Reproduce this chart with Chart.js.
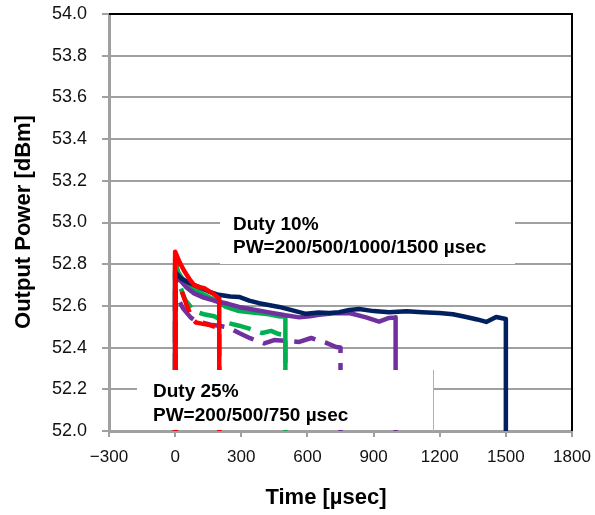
<!DOCTYPE html>
<html>
<head>
<meta charset="utf-8">
<script src="https://cdn.jsdelivr.net/npm/chart.js@4/dist/chart.umd.min.js"></script>
<style>
html,body{margin:0;padding:0;background:#fff;}
#wrap{width:595px;height:515px;}
</style>
</head>
<body>
<div id="wrap"><canvas id="c" width="595" height="515"></canvas></div>
<script>
// ---- data (time in µs, output power in dBm) ----
const xTickValues = [-300, 0, 300, 600, 900, 1200, 1500, 1800];
const yTickValues = [52.0, 52.2, 52.4, 52.6, 52.8, 53.0, 53.2, 53.4, 53.6, 53.8, 54.0];

const red10T = [0, 0, 20, 40, 64, 86, 110, 132, 155, 177, 200, 200];
const red10V = [51.5, 52.86, 52.81, 52.77, 52.73, 52.70, 52.69, 52.685, 52.67, 52.655, 52.635, 51.5];

const green10T = [0, 0, 15, 40, 86, 130, 177, 230, 290, 340, 426, 470, 500, 500];
const green10V = [51.5, 52.80, 52.76, 52.72, 52.68, 52.655, 52.63, 52.595, 52.575, 52.57, 52.56, 52.55, 52.548, 51.5];

const purple10T = [0, 0, 10, 25, 50, 86, 130, 177, 240, 290, 340, 420, 500, 563, 610, 653, 720, 790, 866, 925, 970, 1000, 1000];
const purple10V = [51.5, 52.77, 52.75, 52.72, 52.69, 52.66, 52.64, 52.625, 52.61, 52.595, 52.585, 52.57, 52.555, 52.545, 52.55, 52.557, 52.565, 52.566, 52.545, 52.525, 52.542, 52.545, 51.5];

const navy10T = [0, 0, 10, 30, 64, 109, 150, 190, 250, 290, 336, 381, 472, 563, 594, 650, 700, 744, 790, 835, 900, 971, 1050, 1121, 1198, 1260, 1320, 1370, 1411, 1456, 1500, 1500];
const navy10V = [51.5, 52.76, 52.75, 52.73, 52.71, 52.69, 52.67, 52.655, 52.645, 52.643, 52.625, 52.613, 52.595, 52.57, 52.562, 52.568, 52.566, 52.57, 52.58, 52.585, 52.575, 52.57, 52.574, 52.57, 52.566, 52.56, 52.547, 52.535, 52.523, 52.547, 52.537, 51.5];

const red25T = [0, 0, 10, 18, 30, 50, 77, 95, 120, 150, 180, 200, 200];
const red25V = [51.5, 52.85, 52.77, 52.72, 52.67, 52.61, 52.54, 52.52, 52.515, 52.51, 52.50, 52.49, 51.5];

const green25T = [0, 0, 20, 45, 86, 130, 177, 230, 290, 340, 395, 435, 470, 500, 500];
const green25V = [51.5, 52.78, 52.70, 52.63, 52.575, 52.56, 52.55, 52.52, 52.505, 52.49, 52.47, 52.48, 52.465, 52.46, 51.5];

const purple25T = [0, 0, 10, 20, 35, 50, 70, 90, 122, 160, 200, 245, 290, 340, 404, 449, 500, 563, 617, 680, 730, 750, 750];
const purple25V = [51.5, 52.67, 52.64, 52.62, 52.59, 52.57, 52.545, 52.53, 52.52, 52.51, 52.505, 52.495, 52.47, 52.445, 52.42, 52.436, 52.432, 52.427, 52.446, 52.425, 52.403, 52.40, 51.5];

const box1Lines = ["Duty 10%", "PW=200/500/1000/1500 \u00b5sec"];
const box2Lines = ["Duty 25%", "PW=200/500/750 \u00b5sec"];
const xTitle = "Time [\u00b5sec]";
const yTitle = "Output Power [dBm]";

function pts(T, V) { return T.map((t, i) => ({x: t, y: V[i]})); }

const RED = '#ff0000', GREEN = '#00b050', PURPLE = '#7030a0', NAVY = '#002060';
const FONT = "'Liberation Sans', Arial, sans-serif";
const GRID = '#a0a0a0';

function ds(label, T, V, color, dashed) {
  return {
    label, data: pts(T, V), borderColor: color, backgroundColor: color,
    borderWidth: 4.5, pointRadius: 0, tension: 0, fill: false,
    borderDash: dashed ? [22, 10] : [],
    borderJoinStyle: 'round', borderCapStyle: dashed ? 'butt' : 'round'
  };
}

const overlay = {
  id: 'overlay',
  afterDatasetsDraw(chart) {
    const ctx = chart.ctx;
    const a = chart.chartArea;
    ctx.save();
    // text boxes
    ctx.fillStyle = '#fff';
    ctx.fillRect(220, 205, 295, 59);
    ctx.fillRect(137, 370, 296, 60);
    ctx.strokeStyle = '#b0b0b0'; ctx.lineWidth = 1;
    ctx.beginPath(); ctx.moveTo(433.5, 370); ctx.lineTo(433.5, 431); ctx.stroke();
    ctx.fillStyle = '#000';
    ctx.font = "bold 19px " + FONT;
    ctx.textBaseline = 'alphabetic'; ctx.textAlign = 'left';
    ctx.fillText(box1Lines[0], 233, 230);
    ctx.fillText(box1Lines[1], 233, 253);
    ctx.fillText(box2Lines[0], 153, 396.5);
    ctx.fillText(box2Lines[1], 153, 420.5);
    // black top & right border
    ctx.strokeStyle = '#000'; ctx.lineWidth = 2;
    ctx.beginPath();
    ctx.moveTo(a.left, a.top); ctx.lineTo(a.right, a.top); ctx.lineTo(a.right, a.bottom);
    ctx.stroke();
    ctx.restore();
  },
  afterDraw(chart) {
    const ctx = chart.ctx;
    ctx.save();
    ctx.fillStyle = '#000';
    ctx.font = "bold 22px " + FONT;
    ctx.textAlign = 'center'; ctx.textBaseline = 'middle';
    ctx.fillText(xTitle, 326, 498);
    ctx.translate(24, 222);
    ctx.rotate(-Math.PI / 2);
    ctx.fillText(yTitle, 0, 0);
    ctx.restore();
  }
};

new Chart(document.getElementById('c'), {
  type: 'line',
  data: {
    datasets: [
      ds('200 µs (10%)', red10T, red10V, RED, false),
      ds('1500 µs (10%)', navy10T, navy10V, NAVY, false),
      ds('1000 µs (10%)', purple10T, purple10V, PURPLE, false),
      ds('500 µs (10%)', green10T, green10V, GREEN, false),
      ds('200 µs (25%)', red25T, red25V, RED, true),
      ds('750 µs (25%)', purple25T, purple25V, PURPLE, true),
      ds('500 µs (25%)', green25T, green25V, GREEN, true)
    ]
  },
  options: {
    responsive: false, animation: false, devicePixelRatio: 1,
    layout: {padding: {left: 0, right: 23, top: 14, bottom: 0}},
    plugins: {legend: {display: false}, tooltip: {enabled: false}},
    scales: {
      x: {
        type: 'linear', min: -300, max: 1800,
        afterBuildTicks(s) { s.ticks = xTickValues.map(v => ({value: v})); },
        afterFit(s) { s.height = 84; s.paddingLeft = 0; s.paddingRight = 0; },
        grid: {drawOnChartArea: false, drawTicks: true, tickLength: 6, color: GRID, lineWidth: 2},
        border: {color: GRID, width: 3},
        ticks: {
          font: {family: FONT, size: 17}, color: '#111', padding: 10, maxRotation: 0,
          callback: v => (v < 0 ? '\u2212' + Math.abs(v) : String(v))
        }
      },
      y: {
        type: 'linear', min: 52, max: 54,
        afterBuildTicks(s) { s.ticks = yTickValues.map(v => ({value: v})); },
        afterFit(s) { s.width = 109; s.paddingTop = 0; s.paddingBottom = 0; },
        grid: {drawTicks: true, tickLength: 7, color: GRID, lineWidth: 2},
        border: {color: GRID, width: 3},
        ticks: {
          font: {family: FONT, size: 18}, color: '#111', padding: 15,
          callback: v => Number(v).toFixed(1)
        }
      }
    }
  },
  plugins: [overlay]
});
</script>
</body>
</html>
